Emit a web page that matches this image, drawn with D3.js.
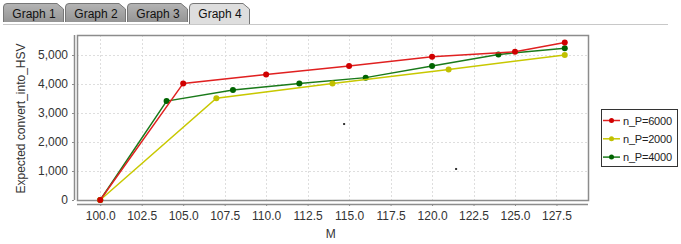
<!DOCTYPE html>
<html>
<head>
<meta charset="utf-8">
<script src="https://cdn.jsdelivr.net/npm/d3@7"></script>
<style>
  body { margin: 0; background: #fff; }
  svg { display: block; font-family: "Liberation Sans", Arial, sans-serif; }
</style>
</head>
<body>
<svg id="chart" width="681" height="244"></svg>
<script>
// tab captions
const tabNames = ["Graph 1", "Graph 2", "Graph 3", "Graph 4"];
const activeTab = 3;

// series
const seriesNames = ["n_P=6000", "n_P=2000", "n_P=4000"];
const seriesColors = ["#e02020", "#c8c800", "#1a7a1a"];
const dotColors = ["#d00000", "#c0c000", "#006400"];

const mP6000 = [100, 105, 110, 115, 120, 125, 128];
const vP6000 = [0, 4020, 4330, 4620, 4940, 5110, 5430];

const mP2000 = [100, 107, 114, 121, 128];
const vP2000 = [0, 3510, 4020, 4500, 5000];

const mP4000 = [100, 104, 108, 112, 116, 120, 124, 128];
const vP4000 = [0, 3410, 3790, 4020, 4220, 4620, 5020, 5230];

// stray specks visible in the plot
const speckM = [114.7, 121.45];
const speckV = [2620, 1070];

const xTicks = [100, 102.5, 105, 107.5, 110, 112.5, 115, 117.5, 120, 122.5, 125, 127.5];
const yTicks = [0, 1000, 2000, 3000, 4000, 5000];

const svg = d3.select("#chart");

// ---- tabs ----
const defs = svg.append("defs");
const grad = defs.append("linearGradient").attr("id", "tabFill").attr("x1", 0).attr("x2", 0).attr("y1", 0).attr("y2", 1);
grad.append("stop").attr("offset", "0%").attr("stop-color", "#b4b4b4");
grad.append("stop").attr("offset", "100%").attr("stop-color", "#959595");

const tabX = [3, 65, 127, 189];
const tabW = 60;
const tabs = svg.append("g");
svg.append("line")
  .attr("x1", 3).attr("x2", 668).attr("y1", 24.5).attr("y2", 24.5)
  .attr("stroke", "#c8c8c8");
tabNames.forEach((name, i) => {
  const x0 = tabX[i], y0 = 3, y1 = i === activeTab ? 24 : 22;
  const path = `M${x0 + 0.5},${y1} L${x0 + 0.5},${y0 + 4} Q${x0 + 0.5},${y0 + 0.5} ${x0 + 4},${y0 + 0.5}
    L${x0 + tabW - 6},${y0 + 0.5} L${x0 + tabW + 0.5},${y0 + 6} L${x0 + tabW + 0.5},${y1}`;
  tabs.append("path")
    .attr("d", path)
    .attr("fill", i === activeTab ? "#dedede" : "url(#tabFill)")
    .attr("stroke", "#777");
  tabs.append("text")
    .attr("x", x0 + tabW / 2 + 1).attr("y", 18)
    .attr("text-anchor", "middle")
    .attr("font-size", 12)
    .attr("fill", "#111")
    .text(name);
});

// ---- plot ----
const plot = { left: 77, right: 588, top: 35, bottom: 200 };

const x = d3.scaleLinear().domain([98.6, 129.4]).range([plot.left, plot.right]);
const y = d3.scaleLinear().domain([0, 5690]).range([plot.bottom, plot.top]);

svg.append("rect")
  .attr("x", plot.left).attr("y", plot.top)
  .attr("width", plot.right - plot.left).attr("height", plot.bottom - plot.top)
  .attr("fill", "#fff");

// grid
const grid = svg.append("g").attr("stroke", "#dedede").attr("stroke-dasharray", "2,2");
grid.selectAll(".gx").data(xTicks).join("line")
  .attr("x1", d => Math.round(x(d)) + 0.5).attr("x2", d => Math.round(x(d)) + 0.5)
  .attr("y1", plot.top).attr("y2", plot.bottom);
grid.selectAll(".gy").data(yTicks).join("line")
  .attr("y1", d => Math.round(y(d)) + 0.5).attr("y2", d => Math.round(y(d)) + 0.5)
  .attr("x1", plot.left).attr("x2", plot.right);

svg.append("rect")
  .attr("x", plot.left + 0.5).attr("y", plot.top + 0.5)
  .attr("width", plot.right - plot.left).attr("height", plot.bottom - plot.top)
  .attr("fill", "none").attr("stroke", "#8c8c8c").attr("stroke-width", 1.5);

// axes (offset from the plot like in the original)
const xAxis = d3.axisBottom(x).tickValues(xTicks).tickFormat(d3.format(".1f"))
  .tickSizeInner(2).tickSizeOuter(0).tickPadding(5);
const gx = svg.append("g").attr("transform", `translate(0,${plot.bottom + 4})`).call(xAxis);
gx.select(".domain").attr("d", `M${plot.left},0.5H${plot.right}`).attr("stroke", "#8c8c8c").attr("stroke-width", 1.5);

const yAxis = d3.axisLeft(y).tickValues(yTicks).tickFormat(d3.format(","))
  .tickSizeInner(2).tickSizeOuter(0).tickPadding(4);
const gy = svg.append("g").attr("transform", `translate(${plot.left - 3},0)`).call(yAxis);
gy.select(".domain").attr("d", `M0.5,${plot.top}V${plot.bottom}`).attr("stroke", "#8c8c8c").attr("stroke-width", 1.5);

[gx, gy].forEach(g => {
  g.selectAll(".tick line").attr("stroke", "#8c8c8c");
  g.selectAll(".tick text").attr("font-size", 12).attr("fill", "#333")
    .attr("font-family", "'Liberation Sans', Arial, sans-serif");
});

svg.append("text")
  .attr("x", x(113.9)).attr("y", 238)
  .attr("text-anchor", "middle").attr("font-size", 12).attr("fill", "#333")
  .text("M");

svg.append("text")
  .attr("transform", `translate(25,${(plot.top + plot.bottom) / 2 + 1}) rotate(-90)`)
  .attr("text-anchor", "middle").attr("font-size", 12).attr("fill", "#333")
  .text("Expected convert_into_HSV");

// series lines and dots (drawn so that red ends on top)
const series = [
  { m: mP4000, v: vP4000, i: 2 },
  { m: mP2000, v: vP2000, i: 1 },
  { m: mP6000, v: vP6000, i: 0 }
];
const line = d3.line().x(d => x(d[0])).y(d => y(d[1]));

series.forEach(s => {
  const pts = s.m.map((m, k) => [m, s.v[k]]);
  svg.append("path")
    .attr("d", line(pts))
    .attr("fill", "none")
    .attr("stroke", seriesColors[s.i])
    .attr("stroke-width", 1.5);
  svg.append("g").selectAll("circle").data(pts).join("circle")
    .attr("cx", d => x(d[0])).attr("cy", d => y(d[1]))
    .attr("r", 3)
    .attr("fill", dotColors[s.i]);
});

svg.append("g").selectAll("rect").data(speckM).join("rect")
  .attr("x", (d, k) => x(d) - 1).attr("y", (d, k) => y(speckV[k]) - 1)
  .attr("width", 2).attr("height", 2)
  .attr("fill", "#333");

// ---- legend ----
const legend = svg.append("g").attr("transform", "translate(601,109)");
legend.append("rect")
  .attr("x", 0.5).attr("y", 0.5).attr("width", 76).attr("height", 57)
  .attr("fill", "#fff").attr("stroke", "#333");
seriesNames.forEach((name, i) => {
  const ly = 11.5 + i * 18.3;
  legend.append("line")
    .attr("x1", 2).attr("x2", 19).attr("y1", ly).attr("y2", ly)
    .attr("stroke", seriesColors[i]).attr("stroke-width", 1.5);
  legend.append("circle")
    .attr("cx", 10.5).attr("cy", ly).attr("r", 2.5).attr("fill", dotColors[i]);
  legend.append("text")
    .attr("x", 22).attr("y", ly + 4)
    .attr("font-size", 11)
    .attr("textLength", 49)
    .attr("fill", "#222")
    .text(name);
});
</script>
</body>
</html>
